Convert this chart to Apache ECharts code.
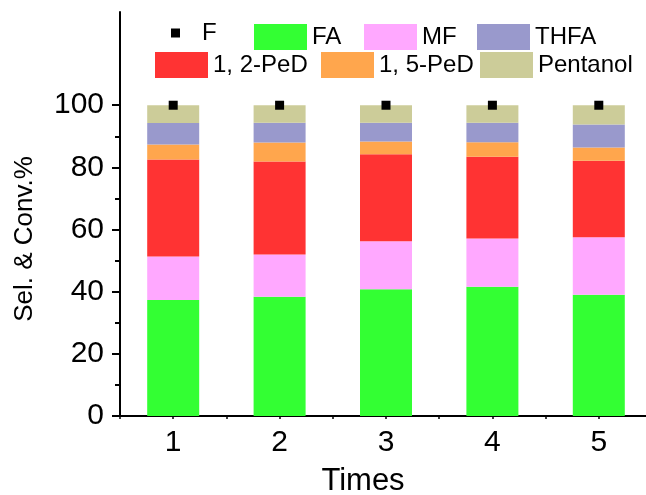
<!DOCTYPE html>
<html>
<head>
<meta charset="utf-8">
<script src="https://cdn.jsdelivr.net/npm/echarts@6/dist/echarts.min.js"></script>
<style>
  html, body { margin: 0; padding: 0; background: #fff; }
  #chart { width: 646px; height: 495px; }
</style>
</head>
<body>
<div id="chart"></div>
<script>
// 横轴：循环次数
const times = ['1', '2', '3', '4', '5']
// 各产物选择性（自下而上堆叠）
const fa = [37.3, 38.4, 40.8, 41.6, 39.0]
const mf = [14.0, 13.6, 15.4, 15.5, 18.5]
const ped12 = [31.2, 29.9, 28.0, 26.3, 24.6]
const ped15 = [4.9, 6.1, 4.1, 4.7, 4.3]
const thfa = [6.9, 6.4, 6.1, 6.3, 7.4]
const pentanol = [5.7, 5.6, 5.6, 5.6, 6.2]
// 糠醛转化率
const conv = [100, 100, 100, 100, 100]
// y轴刻度
const yTicks = [0, 20, 40, 60, 80, 100]
const yMinorTicks = [10, 30, 50, 70, 90]

const font = 'Liberation Sans, Arial, sans-serif'

const barSeries = [
  { name: 'FA', data: fa, color: '#33ff33' },
  { name: 'MF', data: mf, color: '#ffa8ff' },
  { name: '1, 2-PeD', data: ped12, color: '#ff3333' },
  { name: '1, 5-PeD', data: ped15, color: '#ffa64d' },
  { name: 'THFA', data: thfa, color: '#9999cc' },
  { name: 'Pentanol', data: pentanol, color: '#cccc99' }
].map(s => ({
  name: s.name,
  type: 'bar',
  stack: 'sel',
  barWidth: 52,
  data: s.data,
  itemStyle: { color: s.color },
  emphasis: { disabled: true }
}))

// 图例位置（每项一个图例）
function legendItem(name, left, top, extra) {
  return Object.assign({
    data: [name],
    left: left,
    top: top,
    padding: 0,
    icon: 'rect',
    itemWidth: 53,
    itemHeight: 26,
    selectedMode: false,
    textStyle: { fontFamily: font, fontSize: 24, color: '#000' }
  }, extra || {})
}

const option = {
  animation: false,
  grid: { left: 120, right: -6, top: 12, bottom: 79, outerBoundsMode: 'none' },
  legend: [
    legendItem('F', 171, 21, {
      itemWidth: 9,
      itemHeight: 9,
      itemStyle: { color: '#000', opacity: 1 },
      textStyle: { fontFamily: font, fontSize: 24, color: '#000', padding: [0, 0, 0, 17] }
    }),
    legendItem('FA', 254, 24),
    legendItem('MF', 364, 24),
    legendItem('THFA', 477, 24),
    legendItem('1, 2-PeD', 155, 52),
    legendItem('1, 5-PeD', 321, 52),
    legendItem('Pentanol', 480, 52)
  ],
  xAxis: [
    {
      type: 'category',
      data: times,
      name: 'Times',
      nameLocation: 'middle',
      nameGap: 50,
      nameTextStyle: { fontFamily: font, fontSize: 31, color: '#000', padding: [0, 46, 0, 0] },
      axisLine: { lineStyle: { color: '#000', width: 2 } },
      axisTick: { alignWithLabel: true, length: 8, lineStyle: { color: '#000', width: 2 } },
      axisLabel: { fontFamily: font, fontSize: 30, color: '#000', margin: 12 }
    },
    {
      // 顶部边框
      type: 'value',
      position: 'top',
      min: 0.5,
      max: 5.5,
      interval: 0.5,
      axisLine: { show: true, lineStyle: { color: '#000', width: 2 } },
      axisTick: { show: true, inside: true, length: 3, lineStyle: { color: '#000', width: 1.5 } },
      axisLabel: { show: false },
      splitLine: { show: false }
    }
  ],
  yAxis: [
    {
      type: 'value',
      min: 0,
      max: 130,
      name: 'Sel. & Conv.%',
      nameLocation: 'middle',
      nameGap: 82,
      nameTextStyle: { fontFamily: font, fontSize: 26, color: '#000', padding: [0, 50, 0, 0] },
      axisLine: { show: true, lineStyle: { color: '#000', width: 2 } },
      axisTick: { show: true, length: 8, customValues: yTicks, lineStyle: { color: '#000', width: 2 } },
      axisLabel: { fontFamily: font, fontSize: 30, color: '#000', margin: 16, customValues: yTicks },
      splitLine: { show: false }
    },
    {
      // 次刻度
      type: 'value',
      position: 'left',
      min: 0,
      max: 130,
      axisLine: { show: false },
      axisTick: { show: true, length: 5, customValues: yMinorTicks, lineStyle: { color: '#000', width: 2 } },
      axisLabel: { show: false },
      splitLine: { show: false }
    }
  ],
  series: [
    {
      name: 'F',
      type: 'scatter',
      symbol: 'rect',
      symbolSize: 9,
      data: conv,
      z: 5,
      itemStyle: { color: '#000', opacity: 1 },
      emphasis: { disabled: true }
    }
  ].concat(barSeries)
}

const chart = echarts.init(document.getElementById('chart'))
chart.setOption(option)
</script>
</body>
</html>
